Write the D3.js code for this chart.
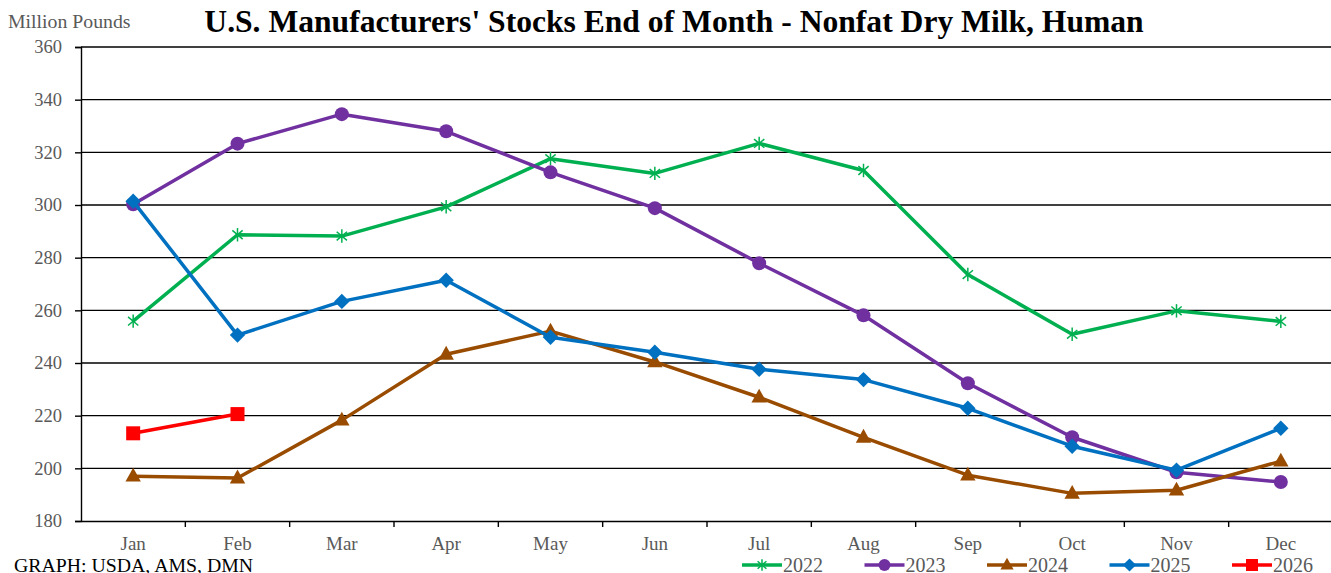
<!DOCTYPE html>
<html>
<head>
<meta charset="utf-8">
<script src="https://cdn.jsdelivr.net/npm/d3@7"></script>
<style>
  body { margin: 0; background: #fff; }
  svg { display: block; font-family: "Liberation Serif", "Times New Roman", serif; }
</style>
</head>
<body>
<script>
var months = ["Jan", "Feb", "Mar", "Apr", "May", "Jun", "Jul", "Aug", "Sep", "Oct", "Nov", "Dec"];
var yTicks = [180, 200, 220, 240, 260, 280, 300, 320, 340, 360];

var s2022 = [255.9, 288.7, 288.2, 299.3, 317.6, 312.0, 323.4, 313.1, 273.6, 250.9, 259.8, 255.8];
var s2023 = [300.3, 323.3, 334.5, 328.0, 312.4, 298.8, 277.9, 258.1, 232.3, 211.8, 198.5, 194.8];
var s2024 = [197.0, 196.3, 218.3, 243.3, 252.1, 240.4, 227.0, 211.8, 197.4, 190.5, 191.7, 202.7];
var s2025 = [301.4, 250.6, 263.4, 271.4, 249.8, 244.1, 237.6, 233.7, 222.8, 208.4, 199.3, 215.2];
var s2026 = [213.3, 220.6];

var series = [
  {name: "2022", values: s2022, color: "#00B050", marker: "star"},
  {name: "2023", values: s2023, color: "#7030A0", marker: "circle"},
  {name: "2024", values: s2024, color: "#994C00", marker: "triangle"},
  {name: "2025", values: s2025, color: "#0070C0", marker: "diamond"},
  {name: "2026", values: s2026, color: "#FF0000", marker: "square"}
];

var breedte = 1331, hoogte = 573;
var marge = {boven: 47, beneden: 52, links: 81, rechts: -2};

var svg = d3.select("body").append("svg")
  .attr("width", breedte)
  .attr("height", hoogte);

// schalen
var x = d3.scaleBand()
  .domain(months)
  .range([marge.links, breedte - marge.rechts]);

var y = d3.scaleLinear()
  .domain([180, 360])
  .range([hoogte - marge.beneden, marge.boven]);

// rasterlijnen
svg.append("g")
  .selectAll("line")
  .data(yTicks.slice(1))
  .enter().append("line")
  .attr("x1", marge.links)
  .attr("x2", breedte)
  .attr("y1", function(d) { return y(d); })
  .attr("y2", function(d) { return y(d); })
  .attr("stroke", "#000")
  .attr("stroke-width", 1.4);

// y-as
var asY = d3.axisLeft(y).tickValues(yTicks).tickSize(6).tickPadding(13);
svg.append("g")
  .attr("transform", "translate(" + marge.links + ",0)")
  .call(asY)
  .call(function(g) {
    g.select(".domain").attr("stroke", "#000").attr("stroke-width", 1.4);
    g.selectAll(".tick line").attr("stroke", "#000").attr("stroke-width", 1.4);
    g.selectAll("text").attr("fill", "#595959").attr("font-size", "18.5px")
      .attr("font-family", "Liberation Serif, serif");
  });

// x-as met streepjes op de grenzen
var asX = d3.axisBottom(x).tickSize(0).tickPadding(15.5);
svg.append("g")
  .attr("transform", "translate(0," + y(180) + ")")
  .call(asX)
  .call(function(g) {
    g.select(".domain").attr("stroke", "#000").attr("stroke-width", 1.4);
    g.selectAll("text").attr("fill", "#595959").attr("font-size", "19px")
      .attr("font-family", "Liberation Serif, serif");
  });

svg.append("g")
  .selectAll("line")
  .data(months.slice(1))
  .enter().append("line")
  .attr("x1", function(d) { return x(d); })
  .attr("x2", function(d) { return x(d); })
  .attr("y1", y(180))
  .attr("y2", y(180) + 6)
  .attr("stroke", "#000")
  .attr("stroke-width", 1.4);

function cx(i) { return x(months[i]) + x.bandwidth() / 2; }

function tekenMarker(g, type, color, px, py, size) {
  if (type == "star") {
    // sterretje: verticaal plus een kruis
    var r = size * 0.48;
    [0, 50, 130].forEach(function(a) {
      var rad = a * Math.PI / 180;
      g.append("line")
        .attr("x1", px - r * Math.sin(rad)).attr("y1", py - r * Math.cos(rad))
        .attr("x2", px + r * Math.sin(rad)).attr("y2", py + r * Math.cos(rad))
        .attr("stroke", color).attr("stroke-width", 1.5);
    });
  } else if (type == "circle") {
    g.append("circle").attr("cx", px).attr("cy", py).attr("r", size * 0.5).attr("fill", color);
  } else if (type == "triangle") {
    var s = size * 0.55;
    g.append("path")
      .attr("d", "M" + px + "," + (py - s * 1.1) + "L" + (px + s) + "," + (py + s * 0.7) + "L" + (px - s) + "," + (py + s * 0.7) + "Z")
      .attr("fill", color);
  } else if (type == "diamond") {
    var d = size * 0.55;
    g.append("path")
      .attr("d", "M" + px + "," + (py - d) + "L" + (px + d) + "," + py + "L" + px + "," + (py + d) + "L" + (px - d) + "," + py + "Z")
      .attr("fill", color);
  } else if (type == "square") {
    var h = size * 0.5;
    g.append("rect").attr("x", px - h).attr("y", py - h).attr("width", 2 * h).attr("height", 2 * h).attr("fill", color);
  }
}

var lijn = d3.line()
  .x(function(d, i) { return cx(i); })
  .y(function(d) { return y(d); });

series.forEach(function(s) {
  var g = svg.append("g");
  g.append("path")
    .datum(s.values)
    .attr("d", lijn)
    .attr("fill", "none")
    .attr("stroke", s.color)
    .attr("stroke-width", 3.5)
    .attr("stroke-linejoin", "round");
  s.values.forEach(function(v, i) {
    tekenMarker(g, s.marker, s.color, cx(i), y(v), 14);
  });
});

// titel
svg.append("text")
  .attr("x", 674)
  .attr("y", 32)
  .attr("text-anchor", "middle")
  .attr("font-size", "31.6px")
  .attr("font-weight", "bold")
  .attr("fill", "#000")
  .text("U.S. Manufacturers' Stocks End of Month - Nonfat Dry Milk, Human");

svg.append("text")
  .attr("x", 8)
  .attr("y", 28)
  .attr("font-size", "19.8px")
  .attr("fill", "#595959")
  .text("Million Pounds");

svg.append("text")
  .attr("x", 14)
  .attr("y", 572)
  .attr("font-size", "19.8px")
  .attr("fill", "#000")
  .text("GRAPH: USDA, AMS, DMN");

// legenda
var legenda = svg.append("g");
series.forEach(function(s, i) {
  var lx = 742 + i * 122.5;
  var ly = 565;
  legenda.append("line")
    .attr("x1", lx).attr("x2", lx + 40)
    .attr("y1", ly).attr("y2", ly)
    .attr("stroke", s.color).attr("stroke-width", 3.5);
  tekenMarker(legenda, s.marker, s.color, lx + 20, ly, 12);
  legenda.append("text")
    .attr("x", lx + 41)
    .attr("y", ly + 6.5)
    .attr("font-size", "20px")
    .attr("fill", "#595959")
    .text(s.name);
});
</script>
</body>
</html>
